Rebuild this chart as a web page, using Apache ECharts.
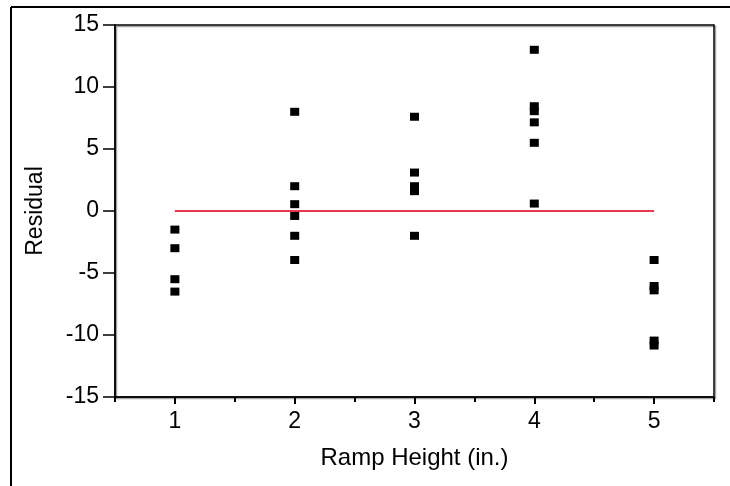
<!DOCTYPE html>
<html>
<head>
<meta charset="utf-8">
<script src="https://cdn.jsdelivr.net/npm/echarts@6/dist/echarts.min.js"></script>
<style>
  html, body { margin: 0; padding: 0; background: #fff; }
  #residual-plot { width: 730px; height: 486px; }
</style>
</head>
<body>
<div id="residual-plot"></div>
<script>
// 残差数据 (ramp height -> residual)
var ramp1 = [-1.5, -3, -5.5, -6.5]
var ramp2 = [8, 2, 0.55, -0.4, -2, -3.95]
var ramp3 = [7.6, 3.1, 2, 1.6, -2]
var ramp4 = [13, 8.45, 8.05, 7.15, 5.5, 0.6]
var ramp5 = [-3.95, -6.05, -6.4, -10.45, -10.85]
var heights = [1, 2, 3, 4, 5]
var halfTicks = [0.5, 1.5, 2.5, 3.5, 4.5, 5.5]
var zeroLine = [[1, 0], [5, 0]]

var groups = [ramp1, ramp2, ramp3, ramp4, ramp5]
var points = []
groups.forEach(function (vals, i) {
  vals.forEach(function (v) {
    points.push([heights[i], v])
  })
})

var myChart = echarts.init(document.getElementById('residual-plot'))
var fontFamily = '"Liberation Sans", Arial, sans-serif'

var option = {
  animation: false,
  textStyle: { fontFamily: fontFamily },
  graphic: [
    // 外框 (top and left only)
    { type: 'line', shape: { x1: 11, y1: 7, x2: 730, y2: 7 }, style: { stroke: '#000', lineWidth: 2 } },
    { type: 'line', shape: { x1: 11, y1: 7, x2: 11, y2: 486 }, style: { stroke: '#000', lineWidth: 2 } }
  ],
  grid: {
    left: 115,
    right: 16,
    top: 25,
    bottom: 89,
    show: true,
    borderColor: '#000',
    borderWidth: 1.5,
    backgroundColor: 'transparent',
    shadowColor: 'rgba(0,0,0,0.35)',
    shadowOffsetX: 1.5,
    shadowOffsetY: 1.5
  },
  xAxis: [
    {
      type: 'value',
      min: 0.5,
      max: 5.5,
      name: 'Ramp Height (in.)',
      nameLocation: 'middle',
      nameGap: 49,
      nameTextStyle: { color: '#000', fontSize: 24, fontFamily: fontFamily },
      axisLine: { show: true, onZero: false, lineStyle: { color: '#000', width: 1.5 } },
      axisTick: { show: true, customValues: heights, length: 7, lineStyle: { color: '#000', width: 2 } },
      axisLabel: { customValues: heights, color: '#000', fontSize: 23, margin: 13, fontFamily: fontFamily },
      splitLine: { show: false }
    },
    {
      type: 'value',
      position: 'bottom',
      min: 0.5,
      max: 5.5,
      axisLine: { show: false, onZero: false },
      axisTick: { show: true, customValues: halfTicks, length: 5, lineStyle: { color: '#000', width: 2 } },
      axisLabel: { show: false },
      splitLine: { show: false }
    }
  ],
  yAxis: {
    type: 'value',
    min: -15,
    max: 15,
    interval: 5,
    name: 'Residual',
    nameLocation: 'middle',
    nameGap: 68,
    nameTextStyle: { color: '#000', fontSize: 23, fontFamily: fontFamily },
    axisLine: { show: true, onZero: false, lineStyle: { color: '#000', width: 1.5 } },
    axisTick: { show: true, length: 12, lineStyle: { color: '#000', width: 1.5 } },
    axisLabel: { color: '#000', fontSize: 23, margin: 16, fontFamily: fontFamily },
    splitLine: { show: false }
  },
  series: [
    {
      type: 'line',
      xAxisIndex: 0,
      data: zeroLine,
      symbol: 'none',
      lineStyle: { color: '#e8384f', width: 2 },
      z: 1
    },
    {
      type: 'scatter',
      xAxisIndex: 0,
      data: points,
      symbol: 'rect',
      symbolSize: [9, 8],
      itemStyle: { color: '#000', opacity: 1 },
      z: 2
    }
  ]
}
myChart.setOption(option)
</script>
</body>
</html>
